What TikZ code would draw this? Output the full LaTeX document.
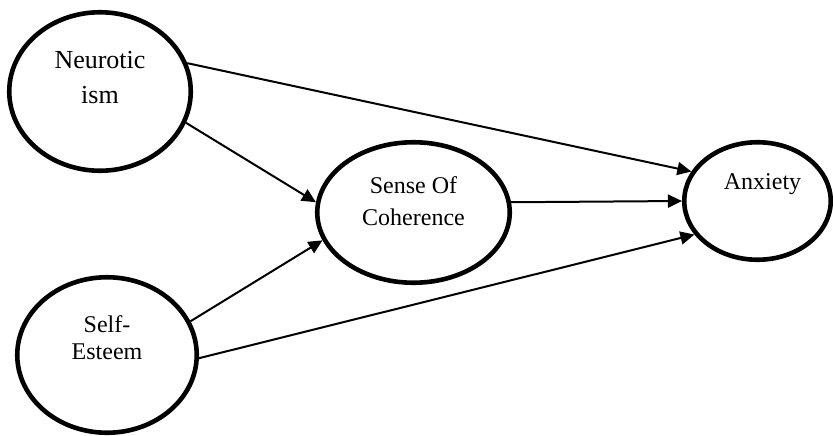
\documentclass[tikz,border=0pt]{standalone}
\usepackage{fontspec}
\setmainfont{Liberation Serif}
\usetikzlibrary{shapes.geometric,arrows.meta}
\tikzset{
	factor/.style={draw,ellipse,line width=4.6pt,inner sep=0pt},
	caption/.style={align=center,inner sep=0pt,anchor=north},
	link/.style={line width=2pt,-{Triangle[length=14pt,width=13pt]}}
}
\begin{document}
\begin{tikzpicture}[x=1pt,y=-1pt]
		\useasboundingbox (0,0) rectangle (833,436);
		
		\node[factor,minimum width=181.5pt,minimum height=158.5pt] (neuro) at (100,91.5) {};
		\node[factor,minimum width=179.5pt,minimum height=155.5pt] (self) at (107,355) {};
		\node[factor,minimum width=192.5pt,minimum height=140.5pt] (soc) at (413.5,212.5) {};
		\node[factor,minimum width=146.5pt,minimum height=117.5pt] (anx) at (757.5,201) {};
		
		\node[caption,font=\fontsize{26}{35}\selectfont] (neurotext) at (100,51) {Neurotic\\ism};
		\node[caption,font=\fontsize{24}{27}\selectfont] (selftext) at (107,315.5) {Self-\\Esteem};
		\node[caption,font=\fontsize{24}{32}\selectfont] (soctext) at (413.5,176.5) {Sense Of\\Coherence};
		\node[caption,font=\fontsize{24}{30}\selectfont] (anxtext) at (762.5,173) {Anxiety};
		
		\draw[link] (neuro.18) -- (anx.156);
		\draw[link] (neuro.-20) -- (soc.174);
		\draw[link] (self.22) -- (soc.-163);
		\draw[link] (self.-2.5) -- (anx.-152);
		\draw[link] (soc.6) -- (anx.180);
	\end{tikzpicture}
\end{document}
